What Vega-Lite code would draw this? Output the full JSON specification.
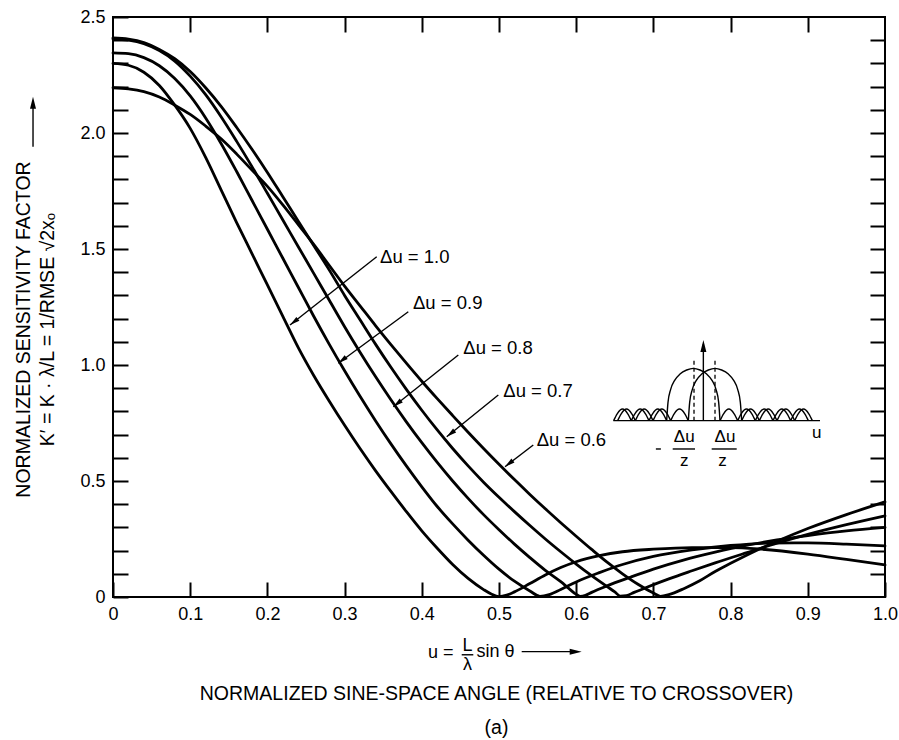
{
  "$schema": "https://vega.github.io/schema/vega-lite/v6.json",
  "width": 772,
  "height": 580,
  "autosize": {"type": "none"},
  "padding": {"left": 113, "top": 17, "right": 14, "bottom": 143},
  "background": "white",
  "config": {
    "view": {"stroke": "black", "strokeWidth": 2},
    "font": "Liberation Sans",
    "text": {"font": "Liberation Sans", "color": "black"},
    "axis": {"labelFont": "Liberation Sans", "titleFont": "Liberation Sans", "labelColor": "black", "titleColor": "black", "tickColor": "black", "grid": false, "domain": false}
  },
  "datasets": {
    "curves": [
      {"du":"1.0","u":0,"k":2.30},{"du":"1.0","u":0.02,"k":2.292},{"du":"1.0","u":0.04,"k":2.262},{"du":"1.0","u":0.06,"k":2.205},{"du":"1.0","u":0.08,"k":2.12},{"du":"1.0","u":0.10,"k":2.02},{"du":"1.0","u":0.12,"k":1.895},{"du":"1.0","u":0.14,"k":1.755},{"du":"1.0","u":0.16,"k":1.615},{"du":"1.0","u":0.18,"k":1.48},{"du":"1.0","u":0.20,"k":1.345},{"du":"1.0","u":0.22,"k":1.21},{"du":"1.0","u":0.24,"k":1.075},{"du":"1.0","u":0.26,"k":0.955},{"du":"1.0","u":0.28,"k":0.845},{"du":"1.0","u":0.30,"k":0.74},{"du":"1.0","u":0.32,"k":0.64},{"du":"1.0","u":0.34,"k":0.545},{"du":"1.0","u":0.36,"k":0.455},{"du":"1.0","u":0.38,"k":0.368},{"du":"1.0","u":0.40,"k":0.285},{"du":"1.0","u":0.42,"k":0.21},{"du":"1.0","u":0.44,"k":0.14},{"du":"1.0","u":0.46,"k":0.08},{"du":"1.0","u":0.48,"k":0.032},{"du":"1.0","u":0.49,"k":0.013},{"du":"1.0","u":0.50,"k":0.002},{"du":"1.0","u":0.51,"k":0.008},{"du":"1.0","u":0.52,"k":0.022},{"du":"1.0","u":0.54,"k":0.058},{"du":"1.0","u":0.56,"k":0.095},{"du":"1.0","u":0.58,"k":0.127},{"du":"1.0","u":0.60,"k":0.152},{"du":"1.0","u":0.63,"k":0.178},{"du":"1.0","u":0.66,"k":0.195},{"du":"1.0","u":0.70,"k":0.206},{"du":"1.0","u":0.75,"k":0.213},{"du":"1.0","u":0.80,"k":0.213},{"du":"1.0","u":0.84,"k":0.206},{"du":"1.0","u":0.90,"k":0.185},{"du":"1.0","u":0.95,"k":0.162},{"du":"1.0","u":1.0,"k":0.138},
      {"du":"0.9","u":0,"k":2.345},{"du":"0.9","u":0.02,"k":2.342},{"du":"0.9","u":0.04,"k":2.325},{"du":"0.9","u":0.06,"k":2.29},{"du":"0.9","u":0.08,"k":2.235},{"du":"0.9","u":0.10,"k":2.16},{"du":"0.9","u":0.12,"k":2.065},{"du":"0.9","u":0.14,"k":1.955},{"du":"0.9","u":0.16,"k":1.835},{"du":"0.9","u":0.18,"k":1.71},{"du":"0.9","u":0.20,"k":1.585},{"du":"0.9","u":0.22,"k":1.46},{"du":"0.9","u":0.24,"k":1.335},{"du":"0.9","u":0.26,"k":1.21},{"du":"0.9","u":0.28,"k":1.09},{"du":"0.9","u":0.30,"k":0.975},{"du":"0.9","u":0.32,"k":0.865},{"du":"0.9","u":0.34,"k":0.76},{"du":"0.9","u":0.36,"k":0.66},{"du":"0.9","u":0.38,"k":0.565},{"du":"0.9","u":0.40,"k":0.475},{"du":"0.9","u":0.42,"k":0.39},{"du":"0.9","u":0.44,"k":0.315},{"du":"0.9","u":0.46,"k":0.245},{"du":"0.9","u":0.48,"k":0.18},{"du":"0.9","u":0.50,"k":0.12},{"du":"0.9","u":0.52,"k":0.068},{"du":"0.9","u":0.54,"k":0.026},{"du":"0.9","u":0.553,"k":0.003},{"du":"0.9","u":0.565,"k":0.01},{"du":"0.9","u":0.58,"k":0.032},{"du":"0.9","u":0.60,"k":0.065},{"du":"0.9","u":0.63,"k":0.105},{"du":"0.9","u":0.66,"k":0.14},{"du":"0.9","u":0.70,"k":0.175},{"du":"0.9","u":0.75,"k":0.203},{"du":"0.9","u":0.80,"k":0.222},{"du":"0.9","u":0.85,"k":0.232},{"du":"0.9","u":0.90,"k":0.233},{"du":"0.9","u":0.95,"k":0.228},{"du":"0.9","u":1.0,"k":0.22},
      {"du":"0.8","u":0,"k":2.405},{"du":"0.8","u":0.02,"k":2.40},{"du":"0.8","u":0.04,"k":2.385},{"du":"0.8","u":0.06,"k":2.355},{"du":"0.8","u":0.08,"k":2.31},{"du":"0.8","u":0.10,"k":2.245},{"du":"0.8","u":0.12,"k":2.165},{"du":"0.8","u":0.14,"k":2.07},{"du":"0.8","u":0.16,"k":1.965},{"du":"0.8","u":0.18,"k":1.855},{"du":"0.8","u":0.20,"k":1.74},{"du":"0.8","u":0.22,"k":1.625},{"du":"0.8","u":0.24,"k":1.51},{"du":"0.8","u":0.26,"k":1.395},{"du":"0.8","u":0.28,"k":1.28},{"du":"0.8","u":0.30,"k":1.165},{"du":"0.8","u":0.32,"k":1.055},{"du":"0.8","u":0.34,"k":0.95},{"du":"0.8","u":0.36,"k":0.85},{"du":"0.8","u":0.38,"k":0.755},{"du":"0.8","u":0.40,"k":0.665},{"du":"0.8","u":0.42,"k":0.58},{"du":"0.8","u":0.44,"k":0.50},{"du":"0.8","u":0.46,"k":0.425},{"du":"0.8","u":0.48,"k":0.355},{"du":"0.8","u":0.50,"k":0.29},{"du":"0.8","u":0.52,"k":0.228},{"du":"0.8","u":0.54,"k":0.17},{"du":"0.8","u":0.56,"k":0.115},{"du":"0.8","u":0.58,"k":0.066},{"du":"0.8","u":0.59,"k":0.038},{"du":"0.8","u":0.598,"k":0.016},{"du":"0.8","u":0.605,"k":0.003},{"du":"0.8","u":0.612,"k":0.007},{"du":"0.8","u":0.62,"k":0.02},{"du":"0.8","u":0.64,"k":0.048},{"du":"0.8","u":0.67,"k":0.085},{"du":"0.8","u":0.70,"k":0.12},{"du":"0.8","u":0.74,"k":0.16},{"du":"0.8","u":0.78,"k":0.193},{"du":"0.8","u":0.82,"k":0.222},{"du":"0.8","u":0.86,"k":0.246},{"du":"0.8","u":0.90,"k":0.265},{"du":"0.8","u":0.95,"k":0.285},{"du":"0.8","u":1.0,"k":0.30},
      {"du":"0.7","u":0,"k":2.41},{"du":"0.7","u":0.02,"k":2.405},{"du":"0.7","u":0.04,"k":2.39},{"du":"0.7","u":0.06,"k":2.36},{"du":"0.7","u":0.08,"k":2.32},{"du":"0.7","u":0.10,"k":2.265},{"du":"0.7","u":0.12,"k":2.195},{"du":"0.7","u":0.14,"k":2.115},{"du":"0.7","u":0.16,"k":2.025},{"du":"0.7","u":0.18,"k":1.93},{"du":"0.7","u":0.20,"k":1.83},{"du":"0.7","u":0.22,"k":1.725},{"du":"0.7","u":0.24,"k":1.62},{"du":"0.7","u":0.26,"k":1.515},{"du":"0.7","u":0.28,"k":1.41},{"du":"0.7","u":0.30,"k":1.30},{"du":"0.7","u":0.32,"k":1.195},{"du":"0.7","u":0.34,"k":1.09},{"du":"0.7","u":0.36,"k":0.99},{"du":"0.7","u":0.38,"k":0.895},{"du":"0.7","u":0.40,"k":0.805},{"du":"0.7","u":0.42,"k":0.72},{"du":"0.7","u":0.44,"k":0.64},{"du":"0.7","u":0.46,"k":0.565},{"du":"0.7","u":0.48,"k":0.495},{"du":"0.7","u":0.50,"k":0.43},{"du":"0.7","u":0.52,"k":0.368},{"du":"0.7","u":0.54,"k":0.308},{"du":"0.7","u":0.56,"k":0.25},{"du":"0.7","u":0.58,"k":0.195},{"du":"0.7","u":0.60,"k":0.142},{"du":"0.7","u":0.62,"k":0.092},{"du":"0.7","u":0.64,"k":0.045},{"du":"0.7","u":0.65,"k":0.022},{"du":"0.7","u":0.657,"k":0.004},{"du":"0.7","u":0.665,"k":0.006},{"du":"0.7","u":0.675,"k":0.02},{"du":"0.7","u":0.69,"k":0.04},{"du":"0.7","u":0.72,"k":0.078},{"du":"0.7","u":0.75,"k":0.113},{"du":"0.7","u":0.78,"k":0.147},{"du":"0.7","u":0.82,"k":0.19},{"du":"0.7","u":0.86,"k":0.232},{"du":"0.7","u":0.90,"k":0.27},{"du":"0.7","u":0.95,"k":0.312},{"du":"0.7","u":1.0,"k":0.35},
      {"du":"0.6","u":0,"k":2.195},{"du":"0.6","u":0.02,"k":2.19},{"du":"0.6","u":0.04,"k":2.178},{"du":"0.6","u":0.06,"k":2.155},{"du":"0.6","u":0.08,"k":2.12},{"du":"0.6","u":0.10,"k":2.08},{"du":"0.6","u":0.12,"k":2.03},{"du":"0.6","u":0.14,"k":1.975},{"du":"0.6","u":0.16,"k":1.91},{"du":"0.6","u":0.18,"k":1.84},{"du":"0.6","u":0.20,"k":1.77},{"du":"0.6","u":0.22,"k":1.69},{"du":"0.6","u":0.24,"k":1.605},{"du":"0.6","u":0.26,"k":1.52},{"du":"0.6","u":0.28,"k":1.43},{"du":"0.6","u":0.30,"k":1.34},{"du":"0.6","u":0.32,"k":1.255},{"du":"0.6","u":0.34,"k":1.17},{"du":"0.6","u":0.36,"k":1.088},{"du":"0.6","u":0.38,"k":1.008},{"du":"0.6","u":0.40,"k":0.93},{"du":"0.6","u":0.42,"k":0.855},{"du":"0.6","u":0.44,"k":0.782},{"du":"0.6","u":0.46,"k":0.71},{"du":"0.6","u":0.48,"k":0.64},{"du":"0.6","u":0.50,"k":0.572},{"du":"0.6","u":0.52,"k":0.506},{"du":"0.6","u":0.54,"k":0.442},{"du":"0.6","u":0.56,"k":0.38},{"du":"0.6","u":0.58,"k":0.32},{"du":"0.6","u":0.60,"k":0.262},{"du":"0.6","u":0.62,"k":0.205},{"du":"0.6","u":0.64,"k":0.15},{"du":"0.6","u":0.66,"k":0.1},{"du":"0.6","u":0.68,"k":0.055},{"du":"0.6","u":0.70,"k":0.017},{"du":"0.6","u":0.709,"k":0.003},{"du":"0.6","u":0.72,"k":0.01},{"du":"0.6","u":0.74,"k":0.037},{"du":"0.6","u":0.76,"k":0.07},{"du":"0.6","u":0.78,"k":0.11},{"du":"0.6","u":0.80,"k":0.145},{"du":"0.6","u":0.83,"k":0.195},{"du":"0.6","u":0.86,"k":0.24},{"du":"0.6","u":0.90,"k":0.295},{"du":"0.6","u":0.95,"k":0.355},{"du":"0.6","u":1.0,"k":0.41}
    ],
    "inset": [
      {"p":"base","u":0.6481,"v":0.7601},{"p":"base","u":0.9158,"v":0.7601},
      {"p":"lobeL","u":0.71719,"v":0.7601},{"p":"lobeL","u":0.71891,"v":0.8391},{"p":"lobeL","u":0.72237,"v":0.8951},{"p":"lobeL","u":0.72755,"v":0.9339},{"p":"lobeL","u":0.73446,"v":0.9612},{"p":"lobeL","u":0.74309,"v":0.9784},{"p":"lobeL","u":0.75173,"v":0.9856},{"p":"lobeL","u":0.76036,"v":0.9784},{"p":"lobeL","u":0.769,"v":0.9612},{"p":"lobeL","u":0.77591,"v":0.9339},{"p":"lobeL","u":0.78109,"v":0.8951},{"p":"lobeL","u":0.78454,"v":0.8391},{"p":"lobeL","u":0.78627,"v":0.7601},
      {"p":"lobeR","u":0.74526,"v":0.7601},{"p":"lobeR","u":0.74698,"v":0.8391},{"p":"lobeR","u":0.75044,"v":0.8951},{"p":"lobeR","u":0.75562,"v":0.9339},{"p":"lobeR","u":0.76253,"v":0.9612},{"p":"lobeR","u":0.77116,"v":0.9784},{"p":"lobeR","u":0.7798,"v":0.9856},{"p":"lobeR","u":0.78843,"v":0.9784},{"p":"lobeR","u":0.79707,"v":0.9612},{"p":"lobeR","u":0.80398,"v":0.9339},{"p":"lobeR","u":0.80916,"v":0.8951},{"p":"lobeR","u":0.81261,"v":0.8391},{"p":"lobeR","u":0.81434,"v":0.7601},
      {"p":"L1","u":0.6485,"v":0.7601},{"p":"L1","u":0.6531,"v":0.7896},{"p":"L1","u":0.66,"v":0.8101},{"p":"L1","u":0.6668,"v":0.7896},{"p":"L1","u":0.6714,"v":0.7601},
      {"p":"L2","u":0.6714,"v":0.7601},{"p":"L2","u":0.676,"v":0.7896},{"p":"L2","u":0.6829,"v":0.8101},{"p":"L2","u":0.6897,"v":0.7896},{"p":"L2","u":0.6943,"v":0.7601},
      {"p":"L3","u":0.6943,"v":0.7601},{"p":"L3","u":0.6989,"v":0.7896},{"p":"L3","u":0.7057,"v":0.8101},{"p":"L3","u":0.7126,"v":0.7896},{"p":"L3","u":0.7172,"v":0.7601},
      {"p":"L4","u":0.7863,"v":0.7601},{"p":"L4","u":0.7909,"v":0.7896},{"p":"L4","u":0.7977,"v":0.8101},{"p":"L4","u":0.8046,"v":0.7896},{"p":"L4","u":0.8092,"v":0.7601},
      {"p":"L5","u":0.8092,"v":0.7601},{"p":"L5","u":0.8137,"v":0.7896},{"p":"L5","u":0.8206,"v":0.8101},{"p":"L5","u":0.8275,"v":0.7896},{"p":"L5","u":0.832,"v":0.7601},
      {"p":"L6","u":0.832,"v":0.7601},{"p":"L6","u":0.8366,"v":0.7896},{"p":"L6","u":0.8435,"v":0.8101},{"p":"L6","u":0.8503,"v":0.7896},{"p":"L6","u":0.8549,"v":0.7601},
      {"p":"L7","u":0.8549,"v":0.7601},{"p":"L7","u":0.8595,"v":0.7896},{"p":"L7","u":0.8664,"v":0.8101},{"p":"L7","u":0.8732,"v":0.7896},{"p":"L7","u":0.8778,"v":0.7601},
      {"p":"L8","u":0.8778,"v":0.7601},{"p":"L8","u":0.8824,"v":0.7896},{"p":"L8","u":0.8892,"v":0.8101},{"p":"L8","u":0.8961,"v":0.7896},{"p":"L8","u":0.9007,"v":0.7601},
      {"p":"R1","u":0.6537,"v":0.7601},{"p":"R1","u":0.6583,"v":0.7896},{"p":"R1","u":0.6652,"v":0.8101},{"p":"R1","u":0.672,"v":0.7896},{"p":"R1","u":0.6766,"v":0.7601},
      {"p":"R2","u":0.6766,"v":0.7601},{"p":"R2","u":0.6812,"v":0.7896},{"p":"R2","u":0.688,"v":0.8101},{"p":"R2","u":0.6949,"v":0.7896},{"p":"R2","u":0.6995,"v":0.7601},
      {"p":"R3","u":0.6995,"v":0.7601},{"p":"R3","u":0.7041,"v":0.7896},{"p":"R3","u":0.7109,"v":0.8101},{"p":"R3","u":0.7178,"v":0.7896},{"p":"R3","u":0.7224,"v":0.7601},
      {"p":"R4","u":0.7224,"v":0.7601},{"p":"R4","u":0.7269,"v":0.7896},{"p":"R4","u":0.7338,"v":0.8101},{"p":"R4","u":0.7407,"v":0.7896},{"p":"R4","u":0.7452,"v":0.7601},
      {"p":"R5","u":0.8143,"v":0.7601},{"p":"R5","u":0.8189,"v":0.7896},{"p":"R5","u":0.8258,"v":0.8101},{"p":"R5","u":0.8327,"v":0.7896},{"p":"R5","u":0.8372,"v":0.7601},
      {"p":"R6","u":0.8372,"v":0.7601},{"p":"R6","u":0.8418,"v":0.7896},{"p":"R6","u":0.8487,"v":0.8101},{"p":"R6","u":0.8555,"v":0.7896},{"p":"R6","u":0.8601,"v":0.7601},
      {"p":"R7","u":0.8601,"v":0.7601},{"p":"R7","u":0.8647,"v":0.7896},{"p":"R7","u":0.8715,"v":0.8101},{"p":"R7","u":0.8784,"v":0.7896},{"p":"R7","u":0.883,"v":0.7601},
      {"p":"R8","u":0.883,"v":0.7601},{"p":"R8","u":0.8876,"v":0.7896},{"p":"R8","u":0.8944,"v":0.8101},{"p":"R8","u":0.9013,"v":0.7896},{"p":"R8","u":0.9059,"v":0.7601}
    ],
    "segs": [
      {"x1":0.3416,"y1":1.4668,"x2":0.2293,"y2":1.1724},
      {"x1":0.3825,"y1":1.2297,"x2":0.2918,"y2":1.0073},
      {"x1":0.4473,"y1":1.0431,"x2":0.3631,"y2":0.8203},
      {"x1":0.4991,"y1":0.8707,"x2":0.4323,"y2":0.691},
      {"x1":0.5444,"y1":0.6552,"x2":0.5078,"y2":0.5616},
      {"x1":0.7647,"y1":0.7601,"x2":0.7647,"y2":1.09},
      {"x1":0.725,"y1":0.638,"x2":0.7539,"y2":0.638},
      {"x1":0.7755,"y1":0.638,"x2":0.8079,"y2":0.638},
      {"x1":0.7032,"y1":0.638,"x2":0.7097,"y2":0.638},
      {"x1":0.4517,"y1":-0.249,"x2":0.4667,"y2":-0.249},
      {"x1":0.5294,"y1":-0.2356,"x2":0.6,"y2":-0.2356},
      {"x1":-0.1036,"y1":1.941,"x2":-0.1036,"y2":2.13}
    ],
    "leaderTips": [
      {"u":0.2293,"v":1.1724},{"u":0.2918,"v":1.0073},{"u":0.3631,"v":0.8203},{"u":0.4323,"v":0.691},{"u":0.5078,"v":0.5616}
    ],
    "upTips": [
      {"u":0.7647,"v":1.108},{"u":-0.1036,"v":2.1565}
    ],
    "rightTips": [
      {"u":0.6071,"v":-0.2356}
    ],
    "labels": [
      {"t":"Δu = 1.0","u":0.3459,"v":1.466},
      {"t":"Δu = 0.9","u":0.3886,"v":1.266},
      {"t":"Δu = 0.8","u":0.4538,"v":1.072},
      {"t":"Δu = 0.7","u":0.5056,"v":0.89},
      {"t":"Δu = 0.6","u":0.5488,"v":0.677}
    ],
    "insetText": [
      {"t":"Δu","u":0.7399,"v":0.691},{"t":"z","u":0.7399,"v":0.587},
      {"t":"Δu","u":0.7927,"v":0.691},{"t":"z","u":0.7895,"v":0.587},
      {"t":"u","u":0.9115,"v":0.7056}
    ],
    "xTitleText": [
      {"t":"u =","u":0.4245,"v":-0.241},
      {"t":"L","u":0.4592,"v":-0.211},
      {"t":"λ","u":0.4592,"v":-0.291},
      {"t":"sin θ","u":0.4955,"v":-0.237}
    ]
  },
  "layer": [
    {
      "data": {"name": "curves"},
      "mark": {"type": "line", "interpolate": "monotone", "strokeWidth": 2.8, "color": "black", "strokeCap": "round"},
      "encoding": {
        "x": {"field": "u", "type": "quantitative", "scale": {"domain": [0, 1], "nice": false},
          "axis": {"orient": "bottom", "values": [0,0.1,0.2,0.3,0.4,0.5,0.6,0.7,0.8,0.9,1.0], "tickSize": -15, "tickWidth": 2,
            "labelExpr": "datum.value == 0 ? '0' : format(datum.value, '.1f')", "labelFontSize": 18, "labelPadding": 23, "labelFlush": false, "labelOverlap": false,
            "title": ["NORMALIZED SINE-SPACE ANGLE (RELATIVE TO CROSSOVER)", "(a)"], "titleFontSize": 19.5, "titleFontWeight": "normal",
            "titleX": 383, "titleY": 96, "titleBaseline": "middle", "titleAlign": "center", "titleLineHeight": 34.5}},
        "y": {"field": "k", "type": "quantitative", "scale": {"domain": [0, 2.5], "nice": false},
          "axis": {"orient": "left", "values": [0,0.1,0.2,0.3,0.4,0.5,0.6,0.7,0.8,0.9,1.0,1.1,1.2,1.3,1.4,1.5,1.6,1.7,1.8,1.9,2.0,2.1,2.2,2.3,2.4,2.5], "tickSize": -15, "tickWidth": 2,
            "labelExpr": "abs(datum.value*2 - round(datum.value*2)) < 0.001 ? (datum.value == 0 ? '0' : format(datum.value, '.1f')) : ''", "labelFontSize": 18, "labelPadding": 23, "labelFlush": false, "labelOverlap": false,
            "title": ["NORMALIZED SENSITIVITY FACTOR", "K′ = K · λ/L = 1/RMSE  √2xₒ"], "titleFontSize": 19.5, "titleFontWeight": "normal",
            "titleX": -89.5, "titleY": 312, "titleAngle": -90, "titleBaseline": "middle", "titleAlign": "center", "titleLineHeight": 23.5}},
        "detail": {"field": "du"}
      }
    },
    {
      "data": {"name": "inset"},
      "mark": {"type": "line", "interpolate": "monotone", "strokeWidth": 1.4, "color": "black"},
      "encoding": {
        "x": {"field": "u", "type": "quantitative", "scale": {"domain": [0, 1], "nice": false},
          "axis": {"orient": "top", "values": [0.1,0.2,0.3,0.4,0.5,0.6,0.7,0.8,0.9], "tickSize": -15, "tickWidth": 2, "labels": false, "title": null}},
        "y": {"field": "v", "type": "quantitative", "scale": {"domain": [0, 2.5], "nice": false},
          "axis": {"orient": "right", "values": [0.1,0.2,0.3,0.4,0.5,0.6,0.7,0.8,0.9,1.0,1.1,1.2,1.3,1.4,1.5,1.6,1.7,1.8,1.9,2.0,2.1,2.2,2.3,2.4], "tickSize": -15, "tickWidth": 2, "labels": false, "title": null}},
        "detail": {"field": "p"}
      }
    },
    {
      "data": {"values": [{"u":0.7526,"v1":0.7601,"v2":1.0216},{"u":0.7798,"v1":0.7601,"v2":1.0216}]},
      "mark": {"type": "rule", "strokeWidth": 1.3, "color": "black", "strokeDash": [4, 3]},
      "encoding": {
        "x": {"field": "u", "type": "quantitative", "scale": {"domain": [0, 1], "nice": false}, "axis": null},
        "y": {"field": "v1", "type": "quantitative", "scale": {"domain": [0, 2.5], "nice": false}, "axis": null},
        "y2": {"field": "v2"}
      }
    },
    {
      "data": {"name": "segs"},
      "mark": {"type": "rule", "strokeWidth": 1.4, "color": "black"},
      "encoding": {
        "x": {"field": "x1", "type": "quantitative", "scale": {"domain": [0, 1], "nice": false}, "axis": null},
        "y": {"field": "y1", "type": "quantitative", "scale": {"domain": [0, 2.5], "nice": false}, "axis": null},
        "x2": {"field": "x2"},
        "y2": {"field": "y2"}
      }
    },
    {
      "data": {"name": "leaderTips"},
      "mark": {"type": "point", "shape": "M0,0L0.5,2L-0.5,2Z", "size": 100, "angle": 232, "filled": true, "color": "black", "opacity": 1},
      "encoding": {
        "x": {"field": "u", "type": "quantitative", "scale": {"domain": [0, 1], "nice": false}, "axis": null},
        "y": {"field": "v", "type": "quantitative", "scale": {"domain": [0, 2.5], "nice": false}, "axis": null}
      }
    },
    {
      "data": {"name": "upTips"},
      "mark": {"type": "point", "shape": "M0,0L0.5,2L-0.5,2Z", "size": 144, "angle": 0, "filled": true, "color": "black", "opacity": 1},
      "encoding": {
        "x": {"field": "u", "type": "quantitative", "scale": {"domain": [0, 1], "nice": false}, "axis": null},
        "y": {"field": "v", "type": "quantitative", "scale": {"domain": [0, 2.5], "nice": false}, "axis": null}
      }
    },
    {
      "data": {"name": "rightTips"},
      "mark": {"type": "point", "shape": "M0,0L0.5,2L-0.5,2Z", "size": 144, "angle": 90, "filled": true, "color": "black", "opacity": 1},
      "encoding": {
        "x": {"field": "u", "type": "quantitative", "scale": {"domain": [0, 1], "nice": false}, "axis": null},
        "y": {"field": "v", "type": "quantitative", "scale": {"domain": [0, 2.5], "nice": false}, "axis": null}
      }
    },
    {
      "data": {"name": "labels"},
      "mark": {"type": "text", "align": "left", "baseline": "middle", "fontSize": 18.5, "color": "black"},
      "encoding": {
        "x": {"field": "u", "type": "quantitative", "scale": {"domain": [0, 1], "nice": false}, "axis": null},
        "y": {"field": "v", "type": "quantitative", "scale": {"domain": [0, 2.5], "nice": false}, "axis": null},
        "text": {"field": "t"}
      }
    },
    {
      "data": {"name": "insetText"},
      "mark": {"type": "text", "align": "center", "baseline": "middle", "fontSize": 17, "color": "black"},
      "encoding": {
        "x": {"field": "u", "type": "quantitative", "scale": {"domain": [0, 1], "nice": false}, "axis": null},
        "y": {"field": "v", "type": "quantitative", "scale": {"domain": [0, 2.5], "nice": false}, "axis": null},
        "text": {"field": "t"}
      }
    },
    {
      "data": {"name": "xTitleText"},
      "mark": {"type": "text", "align": "center", "baseline": "middle", "fontSize": 18, "color": "black"},
      "encoding": {
        "x": {"field": "u", "type": "quantitative", "scale": {"domain": [0, 1], "nice": false}, "axis": null},
        "y": {"field": "v", "type": "quantitative", "scale": {"domain": [0, 2.5], "nice": false}, "axis": null},
        "text": {"field": "t"}
      }
    }
  ],
  "resolve": {"axis": {"x": "independent", "y": "independent"}}
}
